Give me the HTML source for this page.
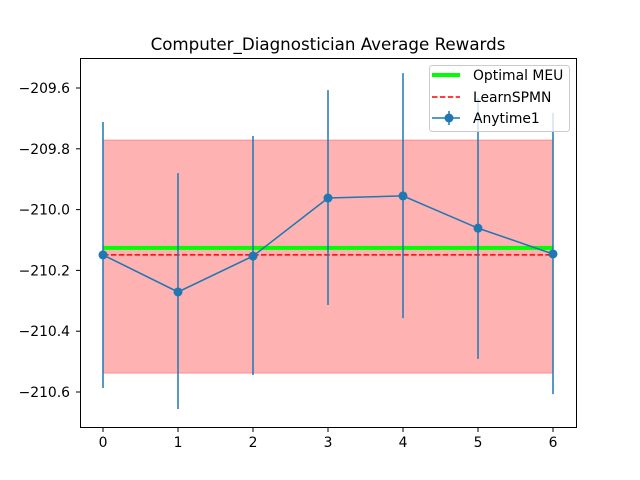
<!DOCTYPE html>
<html><head><meta charset="utf-8"><style>body{margin:0;background:#fff}svg{display:block;font-family:"DejaVu Sans","Liberation Sans",sans-serif}</style></head>
<body>
<svg id="c" width="640" height="480"></svg>
<script>
const xs=[0,1,2,3,4,5,6];
const anytime=[-210.149,-210.271,-210.153,-209.962,-209.955,-210.061,-210.146];
const errHigh=[-209.712,-209.880,-209.758,-209.607,-209.551,-209.633,-209.682];
const errLow=[-210.587,-210.656,-210.544,-210.314,-210.357,-210.491,-210.607];
const optimalMEU=-210.126;
const learnSPMN=-210.149;
const bandHigh=-209.771;
const bandLow=-210.538;
const yTicks=[-209.6,-209.8,-210.0,-210.2,-210.4,-210.6];
const yTickLabels=["−209.6","−209.8","−210.0","−210.2","−210.4","−210.6"];
const xTicks=[0,1,2,3,4,5,6];
const X=v=>103+v*75, Y=v=>88+(-209.6-v)*304;
const s=document.getElementById('c');const NS='http://www.w3.org/2000/svg';
function e(t,a,p){const n=document.createElementNS(NS,t);for(const k in a)n.setAttribute(k,a[k]);(p||s).appendChild(n);return n;}
let t=e('text',{x:328,y:50,'text-anchor':'middle','font-size':16.7});t.textContent='Computer_Diagnostician Average Rewards';

let r=e('rect',{x:X(0),y:Y(bandHigh),width:X(6)-X(0),height:Y(bandLow)-Y(bandHigh),fill:'#ff0000','fill-opacity':0.3,stroke:'#ff0000','stroke-opacity':0.3});

let l=e('line',{x1:X(0),x2:X(6),y1:Y(optimalMEU),y2:Y(optimalMEU),stroke:'#00ff00','stroke-width':4});

l=e('line',{x1:X(0),x2:X(6),y1:Y(learnSPMN),y2:Y(learnSPMN),stroke:'#ff0000','stroke-width':1.5,'stroke-dasharray':'5.5,2.4'});

xs.forEach((x,i)=>{const b=e('line',{x1:X(x),x2:X(x),y1:Y(errHigh[i]),y2:Y(errLow[i]),stroke:'#1f77b4','stroke-width':1.5});
});
const p=e('polyline',{points:xs.map((x,i)=>X(x)+','+Y(anytime[i])).join(' '),fill:'none',stroke:'#1f77b4','stroke-width':1.5});

xs.forEach((x,i)=>{const c=e('circle',{cx:X(x),cy:Y(anytime[i]),r:4.5,fill:'#1f77b4'});
});
const ax=e('rect',{x:80.5,y:58.5,width:496,height:369,fill:'none',stroke:'#000','stroke-width':1});

yTicks.forEach((v,i)=>{const y=Y(v);e('line',{x1:76,x2:80,y1:y,y2:y,stroke:'#000'});
const tt=e('text',{x:70,y:y+5,'text-anchor':'end','font-size':13.9});tt.textContent=yTickLabels[i];
});
xTicks.forEach(v=>{const x=X(v);e('line',{x1:x,x2:x,y1:428,y2:432,stroke:'#000'});
const tt=e('text',{x:x,y:447,'text-anchor':'middle','font-size':13.9});tt.textContent=v;
});
const g=e('g',{});
e('rect',{x:429.5,y:65.5,width:140,height:66,rx:3,fill:'#fff','fill-opacity':0.8,stroke:'#ccc'},g);
e('line',{x1:432,x2:460,y1:75,y2:75,stroke:'#00ff00','stroke-width':4},g);
e('line',{x1:432,x2:460,y1:97,y2:97,stroke:'#ff0000','stroke-width':1.5,'stroke-dasharray':'5.5,2.4'},g);
e('line',{x1:432,x2:460,y1:118,y2:118,stroke:'#1f77b4','stroke-width':1.5},g);
e('line',{x1:449,x2:449,y1:111,y2:125,stroke:'#1f77b4','stroke-width':1.5},g);
e('circle',{cx:449,cy:118,r:4.5,fill:'#1f77b4'},g);
[['Optimal MEU',80],['LearnSPMN',102],['Anytime1',123]].forEach(([txt,y])=>{const tt=e('text',{x:473,y:y,'font-size':13.9},g);tt.textContent=txt;
});
</script>
</body></html>
